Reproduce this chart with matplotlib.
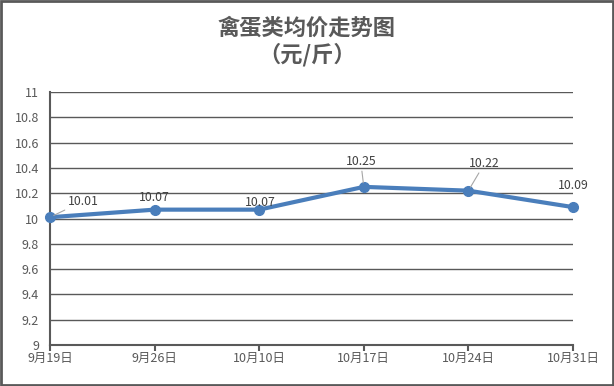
import matplotlib
matplotlib.use('Agg')
import matplotlib.pyplot as plt
from matplotlib.patches import Rectangle

plt.rcParams['font.family'] = ['Noto Sans CJK SC', 'DejaVu Sans']

dates = ['9月19日', '9月26日', '10月10日', '10月17日', '10月24日', '10月31日']
prices = [10.01, 10.07, 10.07, 10.25, 10.22, 10.09]
# label offsets in pixels (dx, dy) from each point
label_offsets = [(33, 16), (0, 12), (1, 7), (-3, 25), (16, 27), (0, 22)]
leaders = [True, False, False, True, True, False]

grey = '#595959'
blue = '#4A7EBB'

fig = plt.figure(figsize=(6.14, 3.86), dpi=100)
ax = fig.add_axes([50 / 614, 1 - 345 / 386, 523 / 614, 253 / 386])

x = list(range(len(dates)))
ax.plot(x, prices, color=blue, lw=3, marker='o', ms=7, zorder=3, clip_on=False)

for i, (xi, yi) in enumerate(zip(x, prices)):
    dx, dy = label_offsets[i]
    props = dict(arrowstyle='-', color='#A6A6A6', lw=0.8, shrinkA=0, shrinkB=3) if leaders[i] else None
    ax.annotate('%.2f' % yi, xy=(xi, yi), xytext=(dx, dy), textcoords='offset pixels',
                ha='center', va='center', fontsize=8.8, color='#404040',
                arrowprops=props, zorder=4)

ax.set_xlim(0, 5)
ax.set_ylim(9, 11)
ax.set_yticks([9 + 0.2 * k for k in range(11)])
ax.set_yticklabels(['9', '9.2', '9.4', '9.6', '9.8', '10', '10.2', '10.4', '10.6', '10.8', '11'])
ax.set_xticks(x)
ax.set_xticklabels(dates)
ax.grid(axis='y', color=grey, lw=1)
ax.set_axisbelow(True)
for s in ['top', 'right']:
    ax.spines[s].set_visible(False)
for s in ['left', 'bottom']:
    ax.spines[s].set_color(grey)
    ax.spines[s].set_linewidth(1.5)
ax.tick_params(axis='y', length=0, labelsize=9, labelcolor=grey, pad=8)
ax.tick_params(axis='x', length=4, width=1.5, color=grey, direction='out', labelsize=9, labelcolor=grey, pad=1)

fig.text(0.5, 1 - 28 / 386, '禽蛋类均价走势图', ha='center', va='center', fontsize=16,
         fontweight='bold', color=grey)
fig.text(0.5, 1 - 55 / 386, '（元/斤）', ha='center', va='center', fontsize=16,
         fontweight='bold', color=grey)

fig.patches.append(Rectangle((0.002, 0.003), 0.996, 0.994, transform=fig.transFigure,
                             fill=False, edgecolor=grey, lw=2))

fig.savefig('out.png', dpi=100)
